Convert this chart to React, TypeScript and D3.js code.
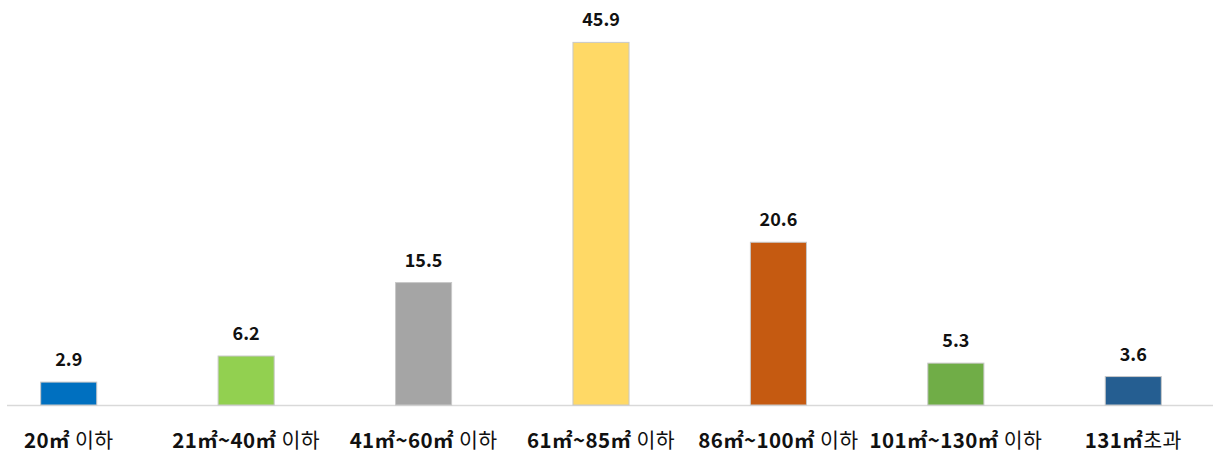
import React from "react";
import * as d3 from "d3";

const categories = ["20㎡ 이하", "21㎡~40㎡ 이하", "41㎡~60㎡ 이하", "61㎡~85㎡ 이하", "86㎡~100㎡ 이하", "101㎡~130㎡ 이하", "131㎡초과"];
const values = [2.9, 6.2, 15.5, 45.9, 20.6, 5.3, 3.6];
const colors = ["#0070C0", "#92D050", "#A5A5A5", "#FFD966", "#C55A11", "#70AD47", "#255E91"];

const W = 1213;
const H = 453;
const BASE = 405;

const FONT = "'Noto Sans CJK KR', 'Noto Sans', sans-serif";

function splitLabel(label: string) {
  const parts: { t: string; bold: boolean }[] = [];
  const re = /([\uAC00-\uD7A3]+|[^\uAC00-\uD7A3]+)/g;
  let m: RegExpExecArray | null;
  while ((m = re.exec(label))) {
    const s = m[1];
    const hangul = /[\uAC00-\uD7A3]/.test(s[0]);
    parts.push({ t: s, bold: !hangul });
  }
  return parts;
}

export default function App() {
  const x = d3
    .scaleBand<string>()
    .domain(categories)
    .range([-20, 1222])
    .paddingInner(0.684)
    .paddingOuter(0.342);
  const y = d3.scaleLinear().domain([0, 50]).range([BASE, 10]);

  return (
    <svg width={W} height={H} style={{ position: "absolute", left: 0, top: 0, background: "#fff" }}>
      <rect x={0} y={0} width={W} height={H} fill="#fff" />
      <line x1={7} x2={W} y1={BASE + 0.5} y2={BASE + 0.5} stroke="#d9d9d9" strokeWidth={1.5} />
      {values.map((v, i) => (
        <g key={i}>
          <rect
            x={x(categories[i])!}
            y={y(v)}
            width={x.bandwidth()}
            height={BASE - y(v)}
            fill={colors[i]}
            stroke="#c8c8c8"
            strokeWidth={1}
          />
          <text
            x={x(categories[i])! + x.bandwidth() / 2}
            y={y(v) - 16}
            textAnchor="middle"
            fontFamily={FONT}
            fontWeight={700}
            fontSize={18}
            fill="#111"
          >
            {v.toFixed(1)}
          </text>
        </g>
      ))}
      {categories.map((c) => (
        <text
          key={c}
          x={x(c)! + x.bandwidth() / 2}
          y={448}
          textAnchor="middle"
          fontFamily={FONT}
          fontSize={20.5}
          letterSpacing={0.4}
          fill="#111"
        >
          {splitLabel(c).map((p, j) => (
            <tspan key={j} fontWeight={p.bold ? 700 : 400}>
              {p.t}
            </tspan>
          ))}
        </text>
      ))}
    </svg>
  );
}
